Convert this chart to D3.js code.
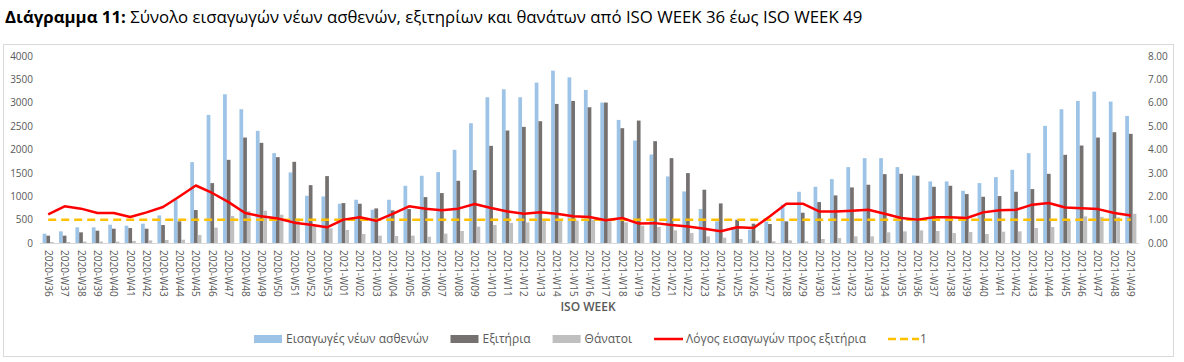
<!DOCTYPE html>
<html>
<head>
<meta charset="utf-8">
<script src="https://cdn.jsdelivr.net/npm/d3@7/dist/d3.min.js"></script>
<style>
  html, body { margin: 0; padding: 0; background: #fff; }
  svg { display: block; }
  text { font-family: "Open Sans", "Noto Sans", sans-serif; }
</style>
</head>
<body>
<svg id="chart" width="1184" height="362"></svg>
<script>
// ---- DATA ----
const weeks = [
  "2020-W36","2020-W37","2020-W38","2020-W39","2020-W40","2020-W41","2020-W42","2020-W43","2020-W44","2020-W45",
  "2020-W46","2020-W47","2020-W48","2020-W49","2020-W50","2020-W51","2020-W52","2020-W53",
  "2021-W01","2021-W02","2021-W03","2021-W04","2021-W05","2021-W06","2021-W07","2021-W08","2021-W09","2021-W10",
  "2021-W11","2021-W12","2021-W13","2021-W14","2021-W15","2021-W16","2021-W17","2021-W18","2021-W19","2021-W20",
  "2021-W21","2021-W22","2021-W23","2021-W24","2021-W25","2021-W26","2021-W27","2021-W28","2021-W29","2021-W30",
  "2021-W31","2021-W32","2021-W33","2021-W34","2021-W35","2021-W36","2021-W37","2021-W38","2021-W39","2021-W40",
  "2021-W41","2021-W42","2021-W43","2021-W44","2021-W45","2021-W46","2021-W47","2021-W48","2021-W49"
];
const admissions = [
  199,249,335,335,391,370,413,590,930,1730,
  2740,3181,2861,2399,1922,1509,1011,996,
  840,925,712,925,1224,1438,1516,1993,2562,3117,
  3288,3117,3431,3687,3544,3274,3004,2633,2192,1893,
  1423,1103,726,463,342,285,460,818,1096,1203,
  1367,1623,1815,1815,1623,1445,1317,1317,1117,1281,
  1409,1566,1922,2505,2861,3039,3238,3025,2719
];
const discharges = [
  157,157,228,263,306,320,306,384,463,705,
  1281,1779,2256,2142,1836,1737,1238,1431,
  854,840,740,698,726,982,1068,1331,1559,2078,
  2406,2484,2605,2975,3039,2904,3004,2456,2619,2178,
  1815,1495,1139,847,498,413,406,463,648,875,
  1018,1189,1246,1473,1480,1438,1203,1224,1046,989,
  1004,1096,1153,1480,1886,2085,2256,2370,2335
];
const deaths = [
  21,20,30,30,28,45,55,65,70,171,
  330,580,680,690,605,520,380,314,
  278,192,157,150,157,135,200,257,350,385,
  430,440,478,477,480,498,463,441,370,342,
  270,213,142,114,85,50,35,57,35,85,
  107,142,142,228,249,270,256,213,235,192,
  242,249,320,342,480,569,560,548,626
];
const ratio = [
  1.22,1.57,1.47,1.28,1.28,1.11,1.31,1.54,1.99,2.46,
  2.14,1.75,1.28,1.14,1.05,0.87,0.78,0.67,
  1.00,1.10,0.95,1.25,1.57,1.47,1.40,1.47,1.67,1.50,
  1.35,1.25,1.32,1.25,1.14,1.11,0.97,1.07,0.83,0.85,
  0.77,0.71,0.61,0.50,0.67,0.64,1.14,1.68,1.68,1.35,
  1.35,1.38,1.42,1.25,1.07,1.00,1.10,1.10,1.07,1.31,
  1.40,1.42,1.64,1.71,1.52,1.49,1.45,1.28,1.18
];
const reference = weeks.map(() => 1);
const leftTicks = [0,500,1000,1500,2000,2500,3000,3500,4000];
const rightTicks = [0,1,2,3,4,5,6,7,8];

const seriesNames = ["Εισαγωγές νέων ασθενών","Εξιτήρια","Θάνατοι","Λόγος εισαγωγών προς εξιτήρια","1"];
const barColors = ["#9DC3E6","#767171","#BFBFBF"];
const titleBold = "Διάγραμμα 11:";
const titleRest = " Σύνολο εισαγωγών νέων ασθενών, εξιτηρίων και θανάτων από ISO WEEK 36 έως ISO WEEK 49";
const xTitle = "ISO WEEK";

// ---- CHART ----
const svg = d3.select("#chart");
const axisColor = "#595959";

// title
const title = svg.append("text").attr("x", 5).attr("y", 23)
  .attr("font-size", 16.8).attr("fill", "#000");
title.append("tspan").attr("font-weight", "bold").text(titleBold);
title.append("tspan").text(titleRest);

// chart border
svg.append("rect").attr("x", 3.5).attr("y", 44.5).attr("width", 1170).attr("height", 312)
  .attr("fill", "none").attr("stroke", "#d9d9d9").attr("stroke-width", 1);

const x = d3.scaleBand().domain(weeks).range([40, 1139]).paddingInner(0).paddingOuter(0);
const yL = d3.scaleLinear().domain([0, 4000]).range([243, 56]);
const yR = d3.scaleLinear().domain([0, 8]).range([243, 56]);

const groupW = x.bandwidth() * 0.68;
const sub = d3.scaleBand().domain([0,1,2]).range([(x.bandwidth()-groupW)/2, (x.bandwidth()+groupW)/2]);

// baseline
svg.append("line").attr("x1", x.range()[0]).attr("x2", x.range()[1])
  .attr("y1", yL(0)+0.5).attr("y2", yL(0)+0.5).attr("stroke", "#d9d9d9");

// bars
const seriesBars = [admissions, discharges, deaths];
seriesBars.forEach((vals, si) => {
  svg.append("g").selectAll("rect").data(vals).join("rect")
    .attr("x", (d, i) => x(weeks[i]) + sub(si))
    .attr("width", sub.bandwidth())
    .attr("y", d => yL(d))
    .attr("height", d => yL(0) - yL(d))
    .attr("fill", barColors[si]);
});

// lines
const lineGen = d3.line().x((d, i) => x(weeks[i]) + x.bandwidth()/2).y(d => yR(d));
svg.append("path").datum(reference).attr("d", lineGen)
  .attr("fill", "none").attr("stroke", "#FFC000").attr("stroke-width", 2.5)
  .attr("stroke-dasharray", "8,5");
svg.append("path").datum(ratio).attr("d", lineGen)
  .attr("fill", "none").attr("stroke", "#FF0000").attr("stroke-width", 2.5)
  .attr("stroke-linejoin", "round");

// left axis
const gL = svg.append("g").attr("transform", "translate(39,0)")
  .call(d3.axisLeft(yL).tickValues(leftTicks).tickSize(0).tickPadding(6).tickFormat(d3.format("d")));
gL.select(".domain").remove();
gL.selectAll("text").attr("fill", axisColor).attr("font-size", 10)
  .attr("font-family", "'Open Sans', sans-serif");

// right axis
const gR = svg.append("g").attr("transform", "translate(1139,0)")
  .call(d3.axisRight(yR).tickValues(rightTicks).tickSize(0).tickPadding(9).tickFormat(d3.format(".2f")));
gR.select(".domain").remove();
gR.selectAll("text").attr("fill", axisColor).attr("font-size", 10)
  .attr("font-family", "'Open Sans', sans-serif");

// bottom axis
const gB = svg.append("g").attr("transform", `translate(0,${yL(0)})`)
  .call(d3.axisBottom(x).tickSize(0).tickPadding(0));
gB.select(".domain").remove();
gB.selectAll("text")
  .attr("fill", axisColor).attr("font-size", 10)
  .attr("font-family", "'Open Sans', sans-serif")
  .attr("text-anchor", "start")
  .attr("dy", null).attr("y", 0)
  .attr("transform", "translate(-3.5,7) rotate(90)");

// x title
svg.append("text").attr("x", 588).attr("y", 311).attr("text-anchor", "middle")
  .attr("font-size", 12).attr("font-weight", 600).attr("fill", axisColor).text(xTitle);

// legend
const legend = svg.append("g").attr("transform", "translate(0,339)");
const legendItems = [
  {type: "rect", color: barColors[0]},
  {type: "rect", color: barColors[1]},
  {type: "rect", color: barColors[2]},
  {type: "line", color: "#FF0000"},
  {type: "dash", color: "#FFC000"}
];
let lx = 254;
legendItems.forEach((it, i) => {
  const g = legend.append("g").attr("transform", `translate(${lx},0)`);
  if (it.type === "rect") {
    g.append("rect").attr("x", 0).attr("y", -4).attr("width", 28).attr("height", 8).attr("fill", it.color);
  } else if (it.type === "line") {
    g.append("line").attr("x1", 0).attr("x2", 29).attr("y1", 0).attr("y2", 0)
      .attr("stroke", it.color).attr("stroke-width", 2.5);
  } else {
    g.append("line").attr("x1", 0).attr("x2", 31).attr("y1", 0).attr("y2", 0)
      .attr("stroke", it.color).attr("stroke-width", 2.5).attr("stroke-dasharray", "8,4");
  }
  const t = g.append("text").attr("x", 32).attr("y", 4).attr("font-size", 12)
    .attr("fill", axisColor).text(seriesNames[i]);
  lx += 32 + t.node().getComputedTextLength() + 22;
});
</script>
</body>
</html>
